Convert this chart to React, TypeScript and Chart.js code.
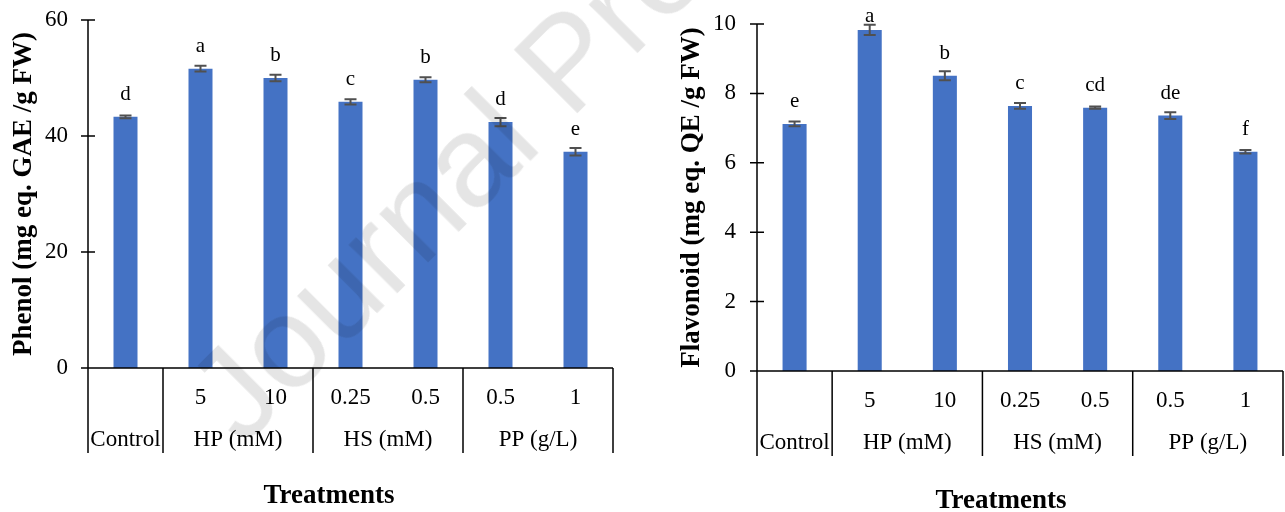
import React, { useEffect, useRef } from "react";
import { Chart, registerables } from "chart.js";

Chart.register(...registerables);

// ---- data ----
const doseLabels = ["", "5", "10", "0.25", "0.5", "0.5", "1"];
const groupNames = ["Control", "HP (mM)", "HS (mM)", "PP (g/L)"];
const groupSizes = [1, 2, 2, 2];

const phenolValues = [43.3, 51.6, 50.0, 45.9, 49.7, 42.4, 37.3];
const phenolErrors = [0.25, 0.5, 0.55, 0.45, 0.45, 0.7, 0.65];
const phenolLetters = ["d", "a", "b", "c", "b", "d", "e"];
const phenolTicks = [0, 20, 40, 60];

const flavValues = [7.12, 9.83, 8.51, 7.64, 7.59, 7.36, 6.32];
const flavErrors = [0.07, 0.15, 0.13, 0.08, 0.03, 0.1, 0.05];
const flavLetters = ["e", "a", "b", "c", "cd", "de", "f"];
const flavTicks = [0, 2, 4, 6, 8, 10];

const SERIF = '"Liberation Serif", "Times New Roman", serif';
const BAR = "#4472C4";

type PanelCfg = {
  values: number[];
  errors: number[];
  letters: string[];
  ticks: number[];
  yTitle: string;
  width: number;
  padTop: number;
  padRight: number;
  yWidth: number;
  xHeight: number;
  yTitlePad: number;
  yTickPad: number;
  titleX: number;
  titleBaseline: number;
};

function makeDecor(cfg: PanelCfg) {
  return {
    id: "decor",
    afterDatasetsDraw(chart: any) {
      const ctx = chart.ctx as CanvasRenderingContext2D;
      const xs = chart.scales.x;
      const ys = chart.scales.y;
      const meta = chart.getDatasetMeta(0);
      const { left, right, bottom } = chart.chartArea;
      ctx.save();
      // error bars
      ctx.strokeStyle = "#505050";
      ctx.lineWidth = 2;
      meta.data.forEach((bar: any, i: number) => {
        const v = cfg.values[i];
        const e = cfg.errors[i];
        const yHi = ys.getPixelForValue(v + e);
        const yLo = ys.getPixelForValue(v - e);
        ctx.beginPath();
        ctx.moveTo(bar.x, yHi);
        ctx.lineTo(bar.x, yLo);
        ctx.moveTo(bar.x - 6, yHi);
        ctx.lineTo(bar.x + 6, yHi);
        ctx.moveTo(bar.x - 6, yLo);
        ctx.lineTo(bar.x + 6, yLo);
        ctx.stroke();
      });
      // significance letters
      ctx.fillStyle = "#000";
      ctx.font = `21px ${SERIF}`;
      ctx.textAlign = "center";
      ctx.textBaseline = "alphabetic";
      meta.data.forEach((bar: any, i: number) => {
        const by = ys.getPixelForValue(cfg.values[i]);
        ctx.fillText(cfg.letters[i], bar.x, Math.max(by - 17, 22));
      });
      // axes
      ctx.strokeStyle = "#000";
      ctx.lineWidth = 1.5;
      ctx.beginPath();
      ctx.moveTo(left, chart.chartArea.top);
      ctx.lineTo(left, bottom);
      ctx.moveTo(left - 7, bottom);
      ctx.lineTo(right, bottom);
      cfg.ticks.forEach((t) => {
        const py = ys.getPixelForValue(t);
        ctx.moveTo(left - 7, py);
        ctx.lineTo(left + 7, py);
      });
      // group dividers
      const n = cfg.values.length;
      const edge = (k: number) => {
        if (k <= 0) return left;
        if (k >= n) return right;
        return (xs.getPixelForValue(k - 1) + xs.getPixelForValue(k)) / 2;
      };
      let k = 0;
      const bounds: number[] = [edge(0)];
      groupSizes.forEach((s) => {
        k += s;
        bounds.push(edge(k));
      });
      bounds.forEach((bx) => {
        ctx.moveTo(bx, bottom);
        ctx.lineTo(bx, bottom + 85);
      });
      ctx.stroke();
      // group labels
      ctx.font = `23px ${SERIF}`;
      groupNames.forEach((g, gi) => {
        const cx = (bounds[gi] + bounds[gi + 1]) / 2;
        ctx.fillText(g, cx, bottom + 78);
      });
      // x title
      ctx.font = `bold 27px ${SERIF}`;
      ctx.fillText("Treatments", cfg.titleX, cfg.titleBaseline);
      ctx.restore();
    },
  };
}

function Panel({ cfg }: { cfg: PanelCfg }) {
  const ref = useRef<HTMLCanvasElement | null>(null);
  useEffect(() => {
    if (!ref.current) return;
    const chart = new Chart(ref.current, {
      type: "bar",
      data: {
        labels: doseLabels,
        datasets: [
          {
            data: cfg.values,
            backgroundColor: BAR,
            borderWidth: 0,
            categoryPercentage: 1,
            barPercentage: 0.32,
          },
        ],
      },
      options: {
        animation: false,
        responsive: false,
        maintainAspectRatio: false,
        devicePixelRatio: 1,
        layout: { padding: { top: cfg.padTop, right: cfg.padRight, left: 0, bottom: 0 } },
        plugins: { legend: { display: false }, tooltip: { enabled: false } },
        scales: {
          x: {
            grid: { display: false, drawTicks: false },
            border: { display: false },
            ticks: {
              color: "#000",
              font: { family: SERIF, size: 23 },
              padding: 16,
              autoSkip: false,
              maxRotation: 0,
            },
            afterFit: (s: any) => {
              s.height = cfg.xHeight;
              s.paddingLeft = 0;
              s.paddingRight = 0;
            },
          },
          y: {
            min: 0,
            max: cfg.ticks[cfg.ticks.length - 1],
            grid: { display: false, drawTicks: false },
            border: { display: false },
            ticks: {
              stepSize: cfg.ticks[1] - cfg.ticks[0],
              color: "#000",
              font: { family: SERIF, size: 23 },
              padding: cfg.yTickPad,
            },
            title: {
              display: true,
              text: cfg.yTitle,
              color: "#000",
              font: { family: SERIF, size: 27, weight: "bold" },
              padding: { top: cfg.yTitlePad, bottom: 0 },
            },
            afterFit: (s: any) => {
              s.width = cfg.yWidth;
              s.paddingTop = 0;
              s.paddingBottom = 0;
            },
          },
        },
      },
      plugins: [makeDecor(cfg)],
    } as any);
    return () => chart.destroy();
  }, [cfg]);
  return <canvas ref={ref} width={cfg.width} height={512} style={{ display: "block", width: cfg.width, height: 512 }} />;
}

const leftCfg: PanelCfg = {
  values: phenolValues,
  errors: phenolErrors,
  letters: phenolLetters,
  ticks: phenolTicks,
  yTitle: "Phenol (mg eq. GAE /g FW)",
  width: 640,
  padTop: 20,
  padRight: 27,
  yWidth: 88,
  xHeight: 144,
  yTitlePad: 8,
  yTickPad: 20,
  titleX: 329,
  titleBaseline: 503,
};

const rightCfg: PanelCfg = {
  values: flavValues,
  errors: flavErrors,
  letters: flavLetters,
  ticks: flavTicks,
  yTitle: "Flavonoid (mg eq. QE /g FW)",
  width: 645,
  padTop: 24,
  padRight: 2,
  yWidth: 117,
  xHeight: 141,
  yTitlePad: 36,
  yTickPad: 21,
  titleX: 361,
  titleBaseline: 508,
};

export default function App() {
  return (
    <div
      style={{
        position: "absolute",
        left: 0,
        top: 0,
        width: 1285,
        height: 512,
        overflow: "hidden",
        background: "#fff",
      }}
    >
      <div style={{ position: "absolute", left: 0, top: 0 }}>
        <Panel cfg={leftCfg} />
      </div>
      <div style={{ position: "absolute", left: 640, top: 0 }}>
        <Panel cfg={rightCfg} />
      </div>
      <div
        style={{
          position: "absolute",
          left: 165,
          top: 370,
          font: '130px "Liberation Sans", Arial, sans-serif',
          lineHeight: "130px",
          color: "rgba(0,0,0,0.1)",
          whiteSpace: "nowrap",
          transformOrigin: "0 0",
          transform: "rotate(-45deg)",
          pointerEvents: "none",
        }}
      >
        Journal Pre-proof
      </div>
    </div>
  );
}
